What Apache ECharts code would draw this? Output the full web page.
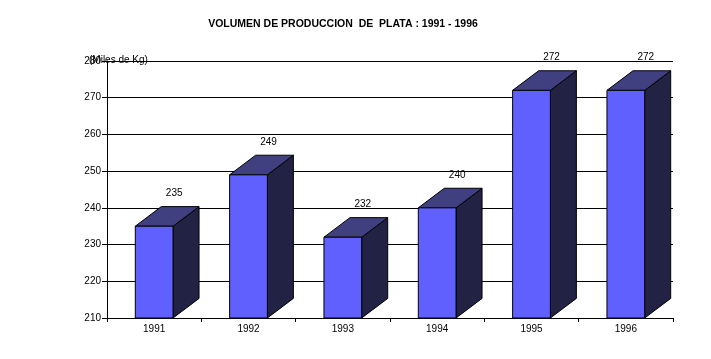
<!DOCTYPE html>
<html><head><meta charset="utf-8">
<script src="https://cdn.jsdelivr.net/npm/echarts@6/dist/echarts.min.js"></script>
<style>html,body{margin:0;padding:0;background:#fff}#c{width:711px;height:359px}</style>
</head><body><div id="c"></div>
<script>
const years = ['1991','1992','1993','1994','1995','1996'];
const volumes = [235, 249, 232, 240, 272, 272];
const yTicks = {min: 210, max: 280, interval: 10};

const FONT = 'Liberation Sans, Arial, sans-serif';
const chart = echarts.init(document.getElementById('c'));
chart.setOption({
  backgroundColor: '#ffffff',
  animation: false,
  title: {
    text: 'VOLUMEN DE PRODUCCION  DE  PLATA : 1991 - 1996',
    left: 338, top: 14, textAlign: 'center',
    textStyle: {fontFamily: FONT, fontSize: 10.5, fontWeight: 'bold', color: '#000'}
  },
  graphic: [{
    type: 'text', left: 89, top: 55,
    style: {text: '(Miles de Kg)', font: '10px ' + FONT, fill: '#000'}
  }],
  grid: {left: 107, right: 38, top: 61, bottom: 41},
  xAxis: {
    type: 'category', data: years, boundaryGap: true,
    axisLine: {lineStyle: {color: '#000', width: 1}},
    axisTick: {show: true, length: 4, lineStyle: {color: '#000'}},
    axisLabel: {fontFamily: FONT, fontSize: 10, color: '#000', margin: 6}
  },
  yAxis: {
    type: 'value', min: yTicks.min, max: yTicks.max, interval: yTicks.interval,
    axisLine: {show: true, lineStyle: {color: '#000', width: 1}},
    axisTick: {show: true, length: 5, lineStyle: {color: '#000'}},
    axisLabel: {fontFamily: FONT, fontSize: 10, color: '#000', margin: 6},
    splitLine: {show: true, lineStyle: {color: '#000', width: 1}}
  },
  series: [{
    type: 'custom',
    data: volumes.map((v, i) => [i, v]),
    clip: false,
    renderItem: function (params, api) {
      const i = api.value(0), v = api.value(1);
      const top = api.coord([i, v]);
      const base = api.coord([i, yTicks.min]);
      const cw = api.size([1, 0])[0];
      const w = cw * 0.4;
      const dx = 26, dy = -19.6;
      const x0 = top[0] - w / 2, x1 = top[0] + w / 2;
      const yt = top[1], yb = base[1];
      const stroke = {stroke: '#000', lineWidth: 1};
      return {
        type: 'group',
        children: [
          {type: 'polygon', shape: {points: [[x1, yb], [x1 + dx, yb + dy], [x1 + dx, yt + dy], [x1, yt]]},
            style: Object.assign({fill: '#222244'}, stroke)},
          {type: 'polygon', shape: {points: [[x0, yt], [x0 + dx, yt + dy], [x1 + dx, yt + dy], [x1, yt]]},
            style: Object.assign({fill: '#404080'}, stroke)},
          {type: 'rect', shape: {x: x0, y: yt, width: w, height: yb - yt},
            style: Object.assign({fill: '#6060ff'}, stroke)},
          {type: 'text', x: top[0] + 20, y: yt - 33,
            style: {text: String(v), font: '10px ' + FONT, fill: '#000', align: 'center', verticalAlign: 'middle'}}
        ]
      };
    }
  }]
});
</script></body></html>
